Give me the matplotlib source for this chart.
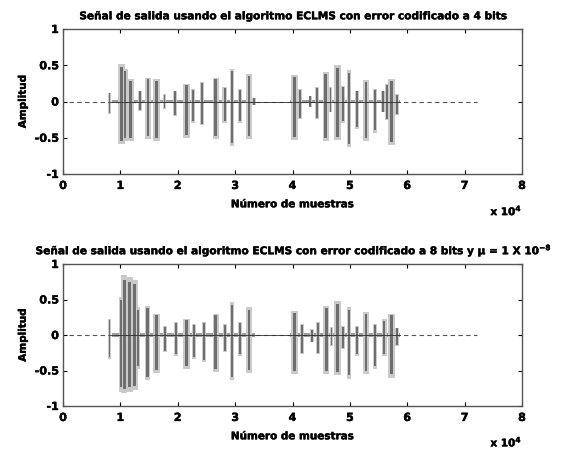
import matplotlib
matplotlib.use("Agg")
import matplotlib.pyplot as plt
import matplotlib.patheffects as pe
import numpy as np

plt.rcParams['font.family'] = ['DejaVu Sans']
plt.rcParams['font.weight'] = 'bold'
plt.rcParams['mathtext.default'] = 'bf'

#x en unidades de 1e4 muestras
#senal 1: error codificado a 4 bits
pos1 = [0.81, 1.02, 1.08, 1.17, 1.34, 1.48, 1.63, 1.77, 1.95, 2.15, 2.27, 2.43, 2.66, 2.82, 2.94, 3.08, 3.24, 3.33,
        4.04, 4.13, 4.31, 4.42, 4.58, 4.66, 4.79, 4.88, 4.99, 5.12, 5.28, 5.44, 5.58, 5.64, 5.73, 5.82]
up1 = [0.12, 0.52, 0.45, 0.31, 0.15, 0.33, 0.31, 0.10, 0.15, 0.24, 0.17, 0.27, 0.33, 0.20, 0.45, 0.17, 0.38, 0.05,
       0.36, 0.17, 0.08, 0.20, 0.41, 0.20, 0.50, 0.22, 0.43, 0.15, 0.29, 0.17, 0.15, 0.24, 0.31, 0.10]
dn1 = [-0.17, -0.59, -0.55, -0.54, -0.13, -0.52, -0.54, -0.10, -0.20, -0.50, -0.29, -0.33, -0.52, -0.29, -0.62, -0.29, -0.52, -0.05,
       -0.53, -0.24, -0.08, -0.24, -0.54, -0.15, -0.53, -0.29, -0.63, -0.38, -0.54, -0.43, -0.15, -0.26, -0.60, -0.18]
wid1 = [0.05, 0.10, 0.08, 0.10, 0.05, 0.08, 0.10, 0.05, 0.05, 0.10, 0.06, 0.06, 0.09, 0.07, 0.06, 0.06, 0.08, 0.05,
        0.10, 0.06, 0.05, 0.06, 0.09, 0.05, 0.10, 0.05, 0.06, 0.06, 0.09, 0.06, 0.05, 0.06, 0.10, 0.05]

#senal 2: error codificado a 8 bits, mu = 1e-8
pos2 = [0.81, 1.01, 1.07, 1.16, 1.25, 1.31, 1.47, 1.63, 1.78, 1.97, 2.15, 2.28, 2.45, 2.66, 2.82, 2.94, 3.08, 3.24,
        4.04, 4.16, 4.34, 4.45, 4.59, 4.68, 4.79, 4.88, 4.99, 5.12, 5.28, 5.44, 5.60, 5.73, 5.82]
up2 = [0.23, 0.53, 0.84, 0.81, 0.78, 0.39, 0.41, 0.30, 0.13, 0.18, 0.23, 0.16, 0.18, 0.30, 0.15, 0.46, 0.18, 0.39,
       0.34, 0.15, 0.08, 0.18, 0.41, 0.11, 0.48, 0.13, 0.39, 0.13, 0.32, 0.15, 0.22, 0.30, 0.10]
dn2 = [-0.34, -0.80, -0.82, -0.80, -0.78, -0.48, -0.64, -0.53, -0.24, -0.29, -0.48, -0.34, -0.38, -0.52, -0.24, -0.64, -0.29, -0.53,
       -0.55, -0.27, -0.10, -0.27, -0.55, -0.15, -0.57, -0.20, -0.62, -0.29, -0.55, -0.48, -0.29, -0.60, -0.15]
wid2 = [0.05, 0.07, 0.09, 0.09, 0.09, 0.06, 0.08, 0.10, 0.05, 0.06, 0.10, 0.06, 0.06, 0.09, 0.06, 0.06, 0.06, 0.08,
        0.10, 0.06, 0.05, 0.06, 0.09, 0.05, 0.10, 0.05, 0.06, 0.06, 0.09, 0.06, 0.07, 0.10, 0.05]

#tramos con actividad de bajo nivel (inicio, fin, amplitud)
act_start = [0.85, 3.95]
act_end = [3.35, 5.88]
act_amp = [0.025, 0.025]
#linea base (inicio y fin de la grabacion)
base_start = 0.1
base_end = 7.22

titles = ["Señal de salida usando el algoritmo ECLMS con error codificado a 4 bits",
          "Señal de salida usando el algoritmo ECLMS con error codificado a 8 bits y μ = 1 X 10$^{-8}$"]
xticks = [0, 1, 2, 3, 4, 5, 6, 7, 8]
yticks = [-1, -0.5, 0, 0.5, 1]
ytlabels = ["-1", "-0.5", "0", "0.5", "1"]

grueso = [pe.withStroke(linewidth=0.3, foreground="black")]

fig = plt.figure(figsize=(5.68, 4.52), dpi=100)
ax1 = fig.add_axes([63/568, 1-175/452, 459/568, 145/452])
ax2 = fig.add_axes([63/568, 1-407/452, 459/568, 142/452])

data = [(pos1, up1, dn1, wid1), (pos2, up2, dn2, wid2)]
for k, ax in enumerate([ax1, ax2]):
    pos, up, dn, wid = [np.array(v) for v in data[k]]
    pos = pos*1e4
    wid = wid*1e4
    #linea base
    ax.plot([base_start*1e4, base_end*1e4], [0, 0], color="#555555", lw=0.8, dashes=(4, 3))
    for s, e, a in zip(act_start, act_end, act_amp):
        ax.bar((s+e)/2*1e4, 2*a, width=(e-s)*1e4, bottom=-a, color="#a0a0a0", lw=0)
    ax.bar(pos, up-dn, width=wid*1.2, bottom=dn, color="#cacaca", lw=0)
    ax.bar(pos, (up-dn)*0.92, width=wid*0.55, bottom=dn*0.92, color="#6e6e6e", lw=0)
    ax.plot([act_start[0]*1e4, act_end[-1]*1e4], [0, 0], color="#333333", lw=0.6)
    ax.set_xlim(0, 8e4)
    ax.set_ylim(-1, 1)
    ax.set_xticks(np.array(xticks)*1e4)
    ax.set_xticklabels([str(t) for t in xticks], fontsize=8, fontweight="bold")
    ax.set_yticks(yticks)
    ax.set_yticklabels(ytlabels, fontsize=8, fontweight="bold")
    ax.tick_params(direction="in", top=True, right=True, length=3, width=0.8, pad=3)
    ax.tick_params(axis="x", pad=5)
    for sp in ax.spines.values():
        sp.set_color("#555555")
        sp.set_linewidth(1.0)
    ax.set_xlabel("Número de muestras", fontsize=7.5, fontweight="bold", labelpad=6, path_effects=grueso)
    ax.set_ylabel("Amplitud", fontsize=7.5, fontweight="bold", labelpad=5, path_effects=grueso)
    ax.set_title(titles[k], fontsize=7.6, fontweight="bold", pad=7, path_effects=grueso)
    ax.text(1.0, -0.25, "x 10$^{4}$", transform=ax.transAxes, ha="right", va="center",
            fontsize=7.5, fontweight="bold", path_effects=grueso)
    for lab in ax.get_xticklabels() + ax.get_yticklabels():
        lab.set_path_effects(grueso)

fig.savefig("out.png", dpi=100)
